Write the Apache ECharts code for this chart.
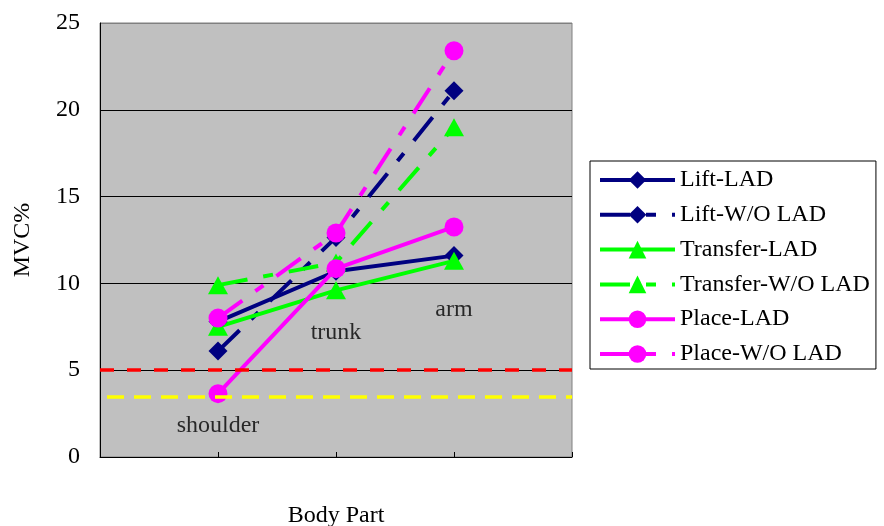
<!DOCTYPE html>
<html>
<head>
<meta charset="utf-8">
<script src="https://cdn.jsdelivr.net/npm/echarts@6/dist/echarts.min.js"></script>
<style>html,body{margin:0;padding:0;background:#fff;}#c{width:884px;height:526px;}</style>
</head>
<body>
<div id="c"></div>
<script>
// ---- data ----
const xCategories = ['', 'shoulder', 'trunk', 'arm', ''];
const seriesNames = ['Lift-LAD', 'Lift-W/O LAD', 'Transfer-LAD', 'Transfer-W/O LAD', 'Place-LAD', 'Place-W/O LAD'];
const liftLAD = [null, 7.8, 10.7, 11.6, null];
const liftWO = [null, 6.1, 12.65, 21.1, null];
const transferLAD = [null, 7.5, 9.6, 11.3, null];
const transferWO = [null, 9.9, 11.2, 19.0, null];
const placeLAD = [null, 3.65, 10.85, 13.25, null];
const placeWO = [null, 8.0, 12.9, 23.4, null];
const thresholdValues = [5, 3.45];
const annotationText = ['shoulder', 'trunk', 'arm'];
const annotationY = [1.8, 7.15, 8.5];
const yMin = 0, yMax = 25, yInterval = 5;

// ---- styling ----
const FONT = '"Liberation Serif", "Times New Roman", serif';
const FS = 24;
const NAVY = '#000080', GREEN = '#00FF00', MAGENTA = '#FF00FF';
const DASH = [30, 16, 10, 16];
const valuesList = [liftLAD, liftWO, transferLAD, transferWO, placeLAD, placeWO];
const colors = [NAVY, NAVY, GREEN, GREEN, MAGENTA, MAGENTA];
const dashed = [false, true, false, true, false, true];
const symbols = ['diamond', 'diamond', 'triangle', 'triangle', 'circle', 'circle'];
const symbolSizes = [19, 19, [20, 18], [20, 18], 19, 19];

const series = valuesList.map((vals, i) => ({
  name: seriesNames[i],
  type: 'line',
  data: vals,
  symbol: symbols[i],
  symbolSize: symbolSizes[i],
  showSymbol: true,
  connectNulls: false,
  lineStyle: { color: colors[i], width: 4, type: dashed[i] ? DASH : 'solid', cap: 'butt' },
  itemStyle: { color: colors[i], borderWidth: 0 },
  emphasis: { disabled: true }
}));

series.push({
  name: 'thresholds',
  type: 'line',
  data: [],
  silent: true,
  markLine: {
    silent: true,
    symbol: ['none', 'none'],
    label: { show: false },
    data: [
      { yAxis: thresholdValues[0], lineStyle: { color: '#FF0000', width: 3.5, type: [14, 13], dashOffset: 0 } },
      { yAxis: thresholdValues[1], lineStyle: { color: '#FFFF00', width: 3.5, type: [17, 10], dashOffset: 20 } }
    ]
  }
});

series.push({
  name: 'annotations',
  type: 'scatter',
  silent: true,
  symbolSize: 0,
  data: annotationY.map((y, i) => [i + 1, y]),
  label: {
    show: true,
    position: 'inside',
    formatter: p => annotationText[p.dataIndex],
    fontFamily: FONT,
    fontSize: FS,
    color: '#000'
  },
  z: 10
});

const chart = echarts.init(document.getElementById('c'));
chart.setOption({
  animation: false,
  backgroundColor: '#fff',
  grid: { left: 100, right: 312, top: 23, bottom: 69, containLabel: false, outerBoundsMode: 'none', show: true, backgroundColor: '#C0C0C0', borderColor: '#808080', borderWidth: 1 },
  legend: {
    data: seriesNames,
    orient: 'vertical',
    left: 590, top: 161,
    itemWidth: 75, itemHeight: 22, itemGap: 10.8,
    padding: [7, 6, 3, 8],
    borderColor: '#000', borderWidth: 1,
    lineStyle: { width: 4 },
    textStyle: { fontFamily: FONT, fontSize: FS, color: '#000' },
    selectedMode: false
  },
  xAxis: {
    type: 'category',
    data: xCategories,
    boundaryGap: false,
    name: 'Body Part',
    nameLocation: 'middle',
    nameGap: 47,
    nameTextStyle: { fontFamily: FONT, fontSize: FS, color: '#000' },
    axisLine: { lineStyle: { color: '#000', width: 1 } },
    axisTick: { show: true, inside: true, length: 5, interval: 0, lineStyle: { color: '#000' } },
    axisLabel: { show: false },
    splitLine: { show: false }
  },
  yAxis: {
    type: 'value',
    min: yMin, max: yMax, interval: yInterval,
    name: 'MVC%',
    nameLocation: 'middle',
    nameGap: 65,
    nameTextStyle: { fontFamily: FONT, fontSize: FS, color: '#000' },
    axisLine: { show: true, lineStyle: { color: '#000', width: 1 } },
    axisTick: { show: false },
    axisLabel: { margin: 20, fontFamily: FONT, fontSize: FS, color: '#000' },
    splitLine: { show: true, lineStyle: { color: ['#000', '#000', '#000', '#000', '#000', '#808080'], width: 1 } }
  },
  series: series
});
</script>
</body>
</html>
